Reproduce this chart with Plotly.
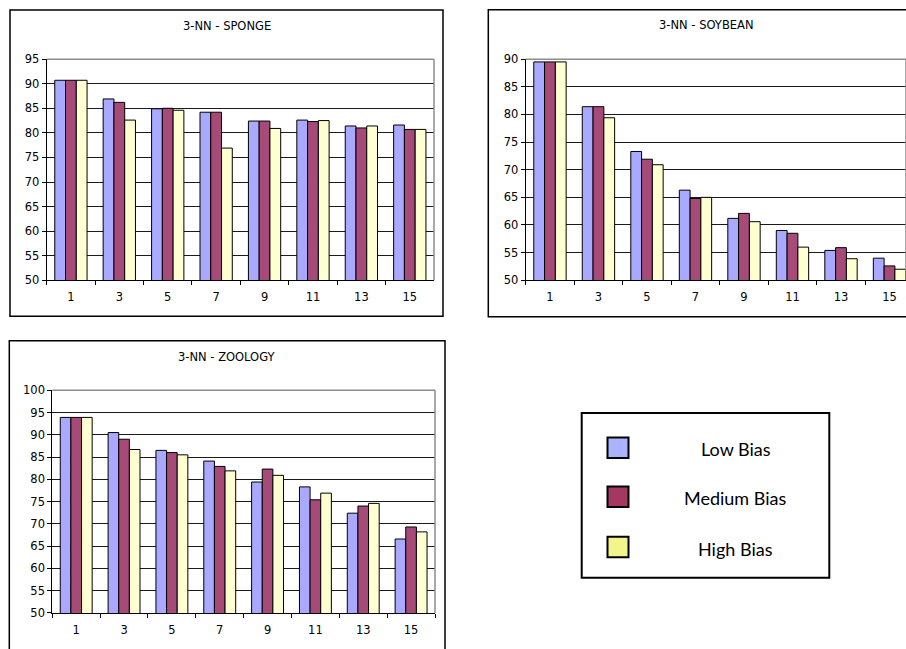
import plotly.graph_objects as go

# k values (number of neighbours) used on the x axis
k_values = ["1", "3", "5", "7", "9", "11", "13", "15"]

series_names = ["Low Bias", "Medium Bias", "High Bias"]

# accuracy (%) per data set and bias level
sponge_low = [90.7, 86.9, 84.9, 84.2, 82.4, 82.6, 81.4, 81.6]
sponge_med = [90.7, 86.2, 85.0, 84.2, 82.4, 82.3, 81.0, 80.7]
sponge_high = [90.7, 82.6, 84.6, 76.9, 80.9, 82.5, 81.4, 80.7]

soybean_low = [89.5, 81.4, 73.3, 66.3, 61.2, 59.0, 55.4, 54.0]
soybean_med = [89.5, 81.4, 71.9, 64.8, 62.1, 58.5, 55.9, 52.6]
soybean_high = [89.5, 79.4, 70.9, 65.0, 60.6, 56.0, 53.9, 52.0]

zoology_low = [93.9, 90.5, 86.5, 84.1, 79.4, 78.3, 72.4, 66.6]
zoology_med = [93.9, 89.0, 86.0, 82.9, 82.3, 75.4, 74.0, 69.3]
zoology_high = [93.9, 86.7, 85.5, 81.9, 80.9, 76.9, 74.6, 68.2]

bar_colors = ["#A9A9FF", "#A64A78", "#FFFFD2"]
swatch_colors = ["#AAB3FF", "#A33862", "#F3F58C"]

W, H = 906, 649


def px(x):
    return x / W


def py(y):
    return 1 - y / H


TICK_FONT = dict(family="DejaVu Sans", size=11.5, color="#000000")

fig = go.Figure()

panels = [
    # (suffix, title, values, x-range, x px domain, y px domain, y range)
    ("", "3-NN - SPONGE", [sponge_low, sponge_med, sponge_high],
     [-0.5, 7.5], (46.7, 434.0), (53.3, 279.3), [50, 95]),
    ("2", "3-NN - SOYBEAN", [soybean_low, soybean_med, soybean_high],
     [-0.5, 7.34], (525.7, 906.0), (53.3, 279.3), [50, 90]),
    ("3", "3-NN - ZOOLOGY", [zoology_low, zoology_med, zoology_high],
     [-0.5, 7.5], (52.3, 435.0), (391.7, 619.3), [50, 100]),
]

for suffix, title, values, xr, xd, yd, yr in panels:
    xa = "x" + suffix
    ya = "y" + suffix
    for name, vals, col in zip(series_names, values, bar_colors):
        fig.add_trace(go.Bar(
            x=k_values, y=vals, name=name, xaxis=xa, yaxis=ya,
            marker=dict(color=col, line=dict(color="#000000", width=1)),
            showlegend=False, hoverinfo="x+y+name",
        ))
    fig.update_layout(**{
        "xaxis" + suffix: dict(
            domain=[px(xd[0]), px(xd[1])], anchor=ya, type="category",
            categoryorder="array", categoryarray=k_values, range=xr,
            showgrid=False, showline=True, linecolor="#000000", linewidth=1,
            ticks="outside", tickson="boundaries", ticklen=4,
            tickcolor="#000000", tickfont=TICK_FONT, ticklabelstandoff=6,
            fixedrange=True,
        ),
        "yaxis" + suffix: dict(
            domain=[py(yd[1]), py(yd[0])], anchor=xa, range=yr, dtick=5,
            showgrid=True, gridcolor="#1a1a1a", gridwidth=1, zeroline=False,
            showline=True, linecolor="#000000", linewidth=1,
            ticks="outside", ticklen=4, tickcolor="#000000",
            tickfont=TICK_FONT, fixedrange=True,
        ),
    })
    # grey plot-area border on the top and right edges
    fig.add_shape(type="line", xref=xa + " domain", yref=ya + " domain",
                  x0=0, x1=1, y0=1, y1=1,
                  line=dict(color="#8C8C8C", width=1.5), layer="above")
    fig.add_shape(type="line", xref=xa + " domain", yref=ya + " domain",
                  x0=1, x1=1, y0=0, y1=1,
                  line=dict(color="#8C8C8C", width=1.5), layer="above")

# chart frames
frames = [(10, 3, 443, 316), (488.3, 2.7, 960, 316.7), (9.3, 341, 445, 700)]
for x0, y0, x1, y1 in frames:
    fig.add_shape(type="rect", xref="paper", yref="paper",
                  x0=px(x0), x1=px(x1), y0=py(y1), y1=py(y0),
                  line=dict(color="#000000", width=1.5), fillcolor="rgba(0,0,0,0)")

# chart titles
titles = [("3-NN - SPONGE", 227, 19.5), ("3-NN - SOYBEAN", 706, 18.5),
          ("3-NN - ZOOLOGY", 227, 357.7)]
for text, x, y in titles:
    fig.add_annotation(text=text, x=px(x), y=py(y), xref="paper", yref="paper",
                       showarrow=False, xanchor="center", yanchor="middle",
                       font=dict(family="DejaVu Sans", size=11.5, color="#000000"))

# shared legend box
fig.add_shape(type="rect", xref="paper", yref="paper",
              x0=px(581.7), x1=px(829.3), y0=py(583.3), y1=py(415),
              line=dict(color="#000000", width=2), fillcolor="#FFFFFF")
legend_rows = [450.5, 500.5, 552.0]
for name, col, yc in zip(series_names, swatch_colors, legend_rows):
    fig.add_shape(type="rect", xref="paper", yref="paper",
                  x0=px(607.5), x1=px(628.5), y0=py(yc + 10.5), y1=py(yc - 10.5),
                  line=dict(color="#000000", width=2), fillcolor=col)
    fig.add_annotation(text=name, x=px(735.5), y=py(yc + 1.5), xref="paper", yref="paper",
                       showarrow=False, xanchor="center", yanchor="middle",
                       font=dict(family="Lato", size=18, color="#000000"))

fig.update_layout(
    width=W, height=H, margin=dict(l=0, r=0, t=0, b=0),
    paper_bgcolor="#FFFFFF", plot_bgcolor="#FFFFFF",
    barmode="group", bargap=0.333, bargroupgap=0,
    showlegend=False,
)

fig.write_html("out.html", config={"displayModeBar": False})
